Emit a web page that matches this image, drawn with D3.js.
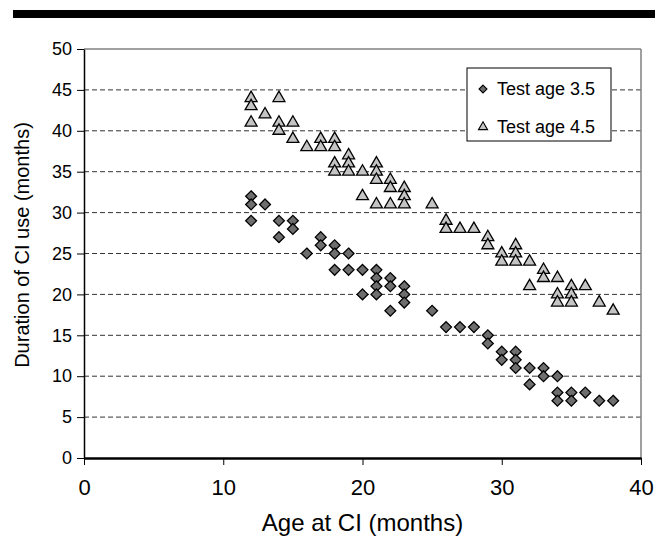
<!DOCTYPE html>
<html>
<head>
<meta charset="utf-8">
<script src="https://cdn.jsdelivr.net/npm/d3@7"></script>
<style>
  body { margin: 0; background: #fff; }
  svg { display: block; font-family: "Liberation Sans", Arial, sans-serif; }
</style>
</head>
<body>
<div id="chart"></div>
<script>
// Test age 3.5 (diamonds): [age at CI, duration of CI use]
const testAge35 = [
    [12, 32], [12, 31], [12, 29], [13, 31], [14, 29], [14, 27], [15, 29], [15, 28],
    [16, 25], [17, 27], [17, 26], [18, 26], [18, 25], [18, 23], [19, 25], [19, 23],
    [20, 23], [20, 20], [21, 23], [21, 22], [21, 21], [21, 20], [22, 22], [22, 21],
    [22, 18], [23, 21], [23, 20], [23, 19], [25, 18], [26, 16], [27, 16], [28, 16],
    [29, 15], [29, 14], [30, 13], [30, 12], [31, 13], [31, 12], [31, 11], [32, 11],
    [32, 9], [33, 11], [33, 10], [34, 10], [34, 8], [34, 7], [35, 8], [35, 7],
    [36, 8], [37, 7], [38, 7]
];

// Test age 4.5 (triangles)
const testAge45 = [
    [12, 44], [12, 43], [12, 41], [13, 42], [14, 44], [14, 41], [14, 40], [15, 41],
    [15, 39], [16, 38], [17, 39], [17, 38], [18, 39], [18, 38], [18, 36], [18, 35],
    [19, 37], [19, 36], [19, 35], [20, 35], [20, 32], [21, 36], [21, 35], [21, 34],
    [21, 31], [22, 34], [22, 33], [22, 31], [23, 33], [23, 32], [23, 31], [25, 31],
    [26, 29], [26, 28], [27, 28], [28, 28], [29, 27], [29, 26], [30, 25], [30, 24],
    [31, 26], [31, 25], [31, 24], [32, 24], [32, 21], [33, 23], [33, 22], [34, 22],
    [34, 20], [34, 19], [35, 21], [35, 20], [35, 19], [36, 21], [37, 19], [38, 18]
];

const xTicks = [0, 10, 20, 30, 40];
const yTicks = [0, 5, 10, 15, 20, 25, 30, 35, 40, 45, 50];
const seriesNames = ["Test age 3.5", "Test age 4.5"];

const W = 668, H = 557;
const margin = {top: 49, right: 27, bottom: 99, left: 84};
const width = W - margin.left - margin.right;
const height = H - margin.top - margin.bottom;

const svg = d3.select("#chart").append("svg")
    .attr("width", W)
    .attr("height", H);

// thick rule across the top of the figure
svg.append("rect")
    .attr("x", 13).attr("y", 10)
    .attr("width", 642).attr("height", 8)
    .attr("fill", "#000");

const g = svg.append("g").attr("transform", `translate(${margin.left},${margin.top})`);

const x = d3.scaleLinear().domain([0, 40]).range([0, width]);
const y = d3.scaleLinear().domain([0, 50]).range([height, 0]);

// dashed grid lines
g.selectAll(".grid")
    .data(yTicks.filter(d => d > 0 && d < 50))
    .join("line")
    .attr("class", "grid")
    .attr("x1", 0).attr("x2", width)
    .attr("y1", d => y(d)).attr("y2", d => y(d))
    .attr("stroke", "#333")
    .attr("stroke-width", 1)
    .attr("stroke-dasharray", "5,3");

// top and right frame (grey)
g.append("line")
    .attr("x1", 0).attr("x2", width)
    .attr("y1", 0).attr("y2", 0)
    .attr("stroke", "#808080").attr("stroke-width", 1.5);
g.append("line")
    .attr("x1", width).attr("x2", width)
    .attr("y1", 0).attr("y2", height)
    .attr("stroke", "#808080").attr("stroke-width", 1.5);

// y axis
const yAxis = g.append("g")
    .call(d3.axisLeft(y).tickValues(yTicks).tickSize(7).tickSizeOuter(0).tickPadding(5));
yAxis.select(".domain").attr("stroke", "#000").attr("stroke-width", 1.5);
yAxis.selectAll(".tick line").attr("stroke", "#000");
yAxis.selectAll(".tick text")
    .attr("font-size", "18px")
    .attr("fill", "#000");

// x axis
const xAxis = g.append("g")
    .attr("transform", `translate(0,${height})`)
    .call(d3.axisBottom(x).tickValues(xTicks).tickSize(7).tickSizeOuter(0).tickPadding(14));
xAxis.select(".domain").attr("stroke", "#000").attr("stroke-width", 2.5);
xAxis.selectAll(".tick line").attr("stroke", "#000");
xAxis.selectAll(".tick text")
    .attr("font-size", "22px")
    .attr("fill", "#000");

// axis titles
svg.append("text")
    .attr("x", margin.left + width / 2)
    .attr("y", 531)
    .attr("text-anchor", "middle")
    .attr("font-size", "24px")
    .text("Age at CI (months)");

svg.append("text")
    .attr("transform", `translate(29,245) rotate(-90)`)
    .attr("text-anchor", "middle")
    .attr("font-size", "20px")
    .text("Duration of CI use (months)");

const diamond = d3.symbol().type(d3.symbolDiamond2).size(75)();
const triangle = d3.symbol().type(d3.symbolTriangle).size(62)();

g.selectAll(".t45")
    .data(testAge45)
    .join("path")
    .attr("class", "t45")
    .attr("d", triangle)
    .attr("transform", d => `translate(${x(d[0])},${y(d[1])})`)
    .attr("fill", "#c4c4c4")
    .attr("stroke", "#000")
    .attr("stroke-width", 1.3);

g.selectAll(".t35")
    .data(testAge35)
    .join("path")
    .attr("class", "t35")
    .attr("d", diamond)
    .attr("transform", d => `translate(${x(d[0])},${y(d[1])})`)
    .attr("fill", "#6e6e6e")
    .attr("stroke", "#000")
    .attr("stroke-width", 1.3);

// legend
const legend = svg.append("g").attr("transform", "translate(467,68)");
legend.append("rect")
    .attr("width", 144).attr("height", 73)
    .attr("fill", "#fff")
    .attr("stroke", "#000")
    .attr("stroke-width", 1);

const rows = legend.selectAll(".row")
    .data(seriesNames)
    .join("g")
    .attr("class", "row")
    .attr("transform", (d, i) => `translate(16,${21 + i * 38})`);

rows.append("path")
    .attr("d", (d, i) => i === 0
        ? d3.symbol().type(d3.symbolDiamond2).size(40)()
        : d3.symbol().type(d3.symbolTriangle).size(36)())
    .attr("fill", (d, i) => i === 0 ? "#6e6e6e" : "#c4c4c4")
    .attr("stroke", "#000")
    .attr("stroke-width", 1.1);

rows.append("text")
    .attr("x", 14)
    .attr("dy", "0.35em")
    .attr("font-size", "18px")
    .text(d => d);
</script>
</body>
</html>
